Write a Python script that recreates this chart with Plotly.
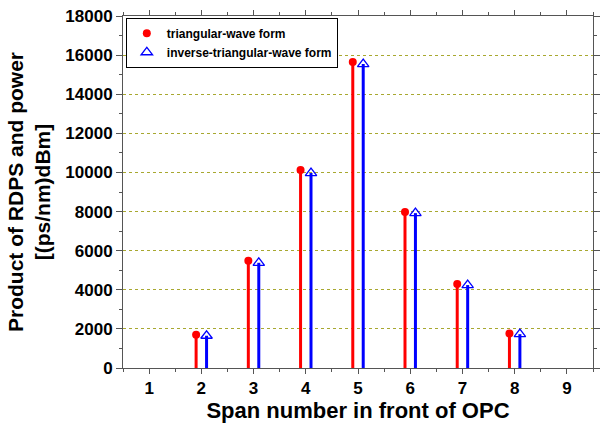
import plotly.graph_objects as go

spans = [2, 3, 4, 5, 6, 7, 8]
tri_values = [1700, 5480, 10130, 15650, 7980, 4300, 1760]
inv_values = [1650, 5380, 9970, 15540, 7920, 4240, 1730]
offset = 0.1
x_ticks = [1, 2, 3, 4, 5, 6, 7, 8, 9]
y_ticks = [0, 2000, 4000, 6000, 8000, 10000, 12000, 14000, 16000, 18000]

def stems(xs, ys, dx):
    sx, sy = [], []
    for x, y in zip(xs, ys):
        sx += [x + dx, x + dx, None]
        sy += [0, y, None]
    return sx, sy

fig = go.Figure()
rx, ry = stems(spans, tri_values, -offset)
bx, by = stems(spans, inv_values, offset)
fig.add_trace(go.Scatter(x=rx, y=ry, mode="lines", line=dict(color="#ff0000", width=3),
                         showlegend=False, hoverinfo="skip"))
fig.add_trace(go.Scatter(x=bx, y=by, mode="lines", line=dict(color="#0000ff", width=3),
                         showlegend=False, hoverinfo="skip"))
fig.add_trace(go.Scatter(x=[s - offset for s in spans], y=tri_values, mode="markers",
                         name="<b>triangular-wave form</b>",
                         marker=dict(symbol="circle", color="#ff0000", size=8)))
fig.add_trace(go.Scatter(x=[s + offset for s in spans], y=inv_values, mode="markers",
                         name="<b>inverse-triangular-wave form</b>",
                         marker=dict(symbol="triangle-up-open", color="#0000ff", size=10,
                                     line=dict(width=1.3))))

axis_font = dict(family="Liberation Sans, Arial", size=17, color="#000000")
fig.update_layout(
    width=601, height=428,
    margin=dict(l=123, r=1, t=16, b=60),
    plot_bgcolor="white", paper_bgcolor="white",
    font=dict(family="Liberation Sans, Arial", color="#000000"),
    legend=dict(x=0.006, y=0.995, xanchor="left", yanchor="top",
                bordercolor="#000000", borderwidth=1, bgcolor="white",
                font=dict(size=12, family="Liberation Sans, Arial", color="#000000"),
                tracegroupgap=0, itemwidth=30),
    xaxis=dict(range=[0.5, 9.5], tickvals=x_ticks, ticktext=[f"<b>{t}</b>" for t in x_ticks],
               tickfont=axis_font, showgrid=False, zeroline=False,
               showline=True, linecolor="#555555", linewidth=1, mirror="ticks",
               ticks="outside", ticklen=5, tickcolor="#555555",
               minor=dict(dtick=0.5, tick0=0.5, ticks="outside", ticklen=3, tickcolor="#555555"),
               title=dict(text="<b>Span number in front of OPC</b>",
                          font=dict(size=22, family="Liberation Sans, Arial"), standoff=4)),
    yaxis=dict(range=[0, 18000], tickvals=y_ticks, ticktext=[f"<b>{t}</b>" for t in y_ticks],
               tickfont=axis_font, showgrid=True, gridcolor="#a8a830", griddash="dot", gridwidth=1,
               zeroline=False, showline=True, linecolor="#555555", linewidth=1, mirror="ticks",
               ticks="outside", ticklen=6, tickcolor="#555555",
               minor=dict(dtick=1000, ticks="outside", ticklen=3, tickcolor="#555555", showgrid=False),
               title=dict(text="<b>Product of RDPS and power<br>[(ps/nm)dBm]</b>",
                          font=dict(size=21, family="Liberation Sans, Arial"), standoff=8)),
)

fig.write_html("out.html")
